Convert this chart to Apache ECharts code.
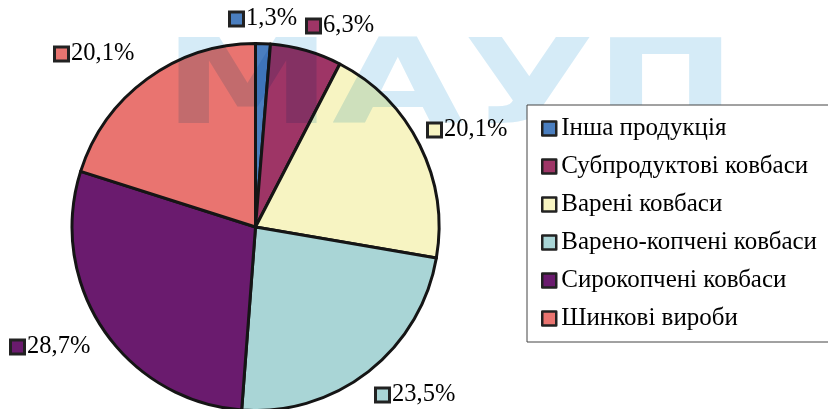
<!DOCTYPE html>
<html>
<head>
<meta charset="utf-8">
<script src="https://cdn.jsdelivr.net/npm/echarts@6/dist/echarts.min.js"></script>
<style>html,body{margin:0;padding:0;background:#fff}#c{width:828px;height:409px}</style>
</head>
<body>
<div id="c"></div>
<script>
const categories = ['Інша продукція','Субпродуктові ковбаси','Варені ковбаси','Варено-копчені ковбаси','Сирокопчені ковбаси','Шинкові вироби'];
const values = [1.3, 6.3, 20.1, 23.5, 28.7, 20.1];
const colors = ['#4a7ebf','#9e3566','#f7f4c2','#a9d5d6','#6a1b6e','#e97470'];
const labelPos = [[231,19],[308,26],[429,130],[377,395],[12,347],[56,54]];
const watermark = 'МАУП';

const rich = { t: { fontFamily: 'Liberation Serif', fontSize: 24.5, color: '#000', padding: [0,0,0,4] } };
colors.forEach((c, i) => {
  rich['s' + i] = { width: 11, height: 11, backgroundColor: c, borderColor: '#222', borderWidth: 3 };
});

const chart = echarts.init(document.getElementById('c'), null, { renderer: 'canvas' });
chart.setOption({
  animation: false,
  backgroundColor: '#fff',
  color: colors,
  graphic: [{
    type: 'text',
    x: 163, y: 33.5, scaleX: 1.44, zlevel: 1, z: 1,
    silent: true,
    style: {
      x: 0, y: 0, text: watermark, font: 'bold 118px "DejaVu Sans"',
      fill: '#d5ebf7', verticalAlign: 'top'
    }
  }],
  legend: {
    orient: 'vertical', left: 527, top: 105, zlevel: 2,
    backgroundColor: '#fff', borderColor: '#444', borderWidth: 1,
    padding: [11, 40, 11, 14], itemGap: 13,
    itemWidth: 14, itemHeight: 14, icon: 'rect',
    itemStyle: { borderColor: '#222', borderWidth: 2.5 },
    textStyle: { fontFamily: 'Liberation Serif', fontSize: 25, color: '#000', lineHeight: 25 },
    data: categories
  },
  series: [{
    type: 'pie',
    center: [255.5, 227], radius: 183.5,
    startAngle: 90, clockwise: true,
    itemStyle: { borderColor: '#151515', borderWidth: 3 },
    label: {
      show: true, position: 'outside', overflow: 'none',
      formatter: p => '{s' + p.dataIndex + '|}{t|' + p.value.toFixed(1).replace('.', ',') + '%}',
      rich: rich
    },
    labelLine: { show: false },
    labelLayout: p => ({ x: labelPos[p.dataIndex][0], y: labelPos[p.dataIndex][1], align: 'left', verticalAlign: 'middle' }),
    emphasis: { disabled: true },
    data: categories.map((n, i) => ({ name: n, value: values[i] }))
  }]
});
try {
  const layer = chart.getZr().painter.getLayer(1);
  if (layer && layer.dom) layer.dom.style.mixBlendMode = 'multiply';
} catch (e) {}
</script>
</body>
</html>
